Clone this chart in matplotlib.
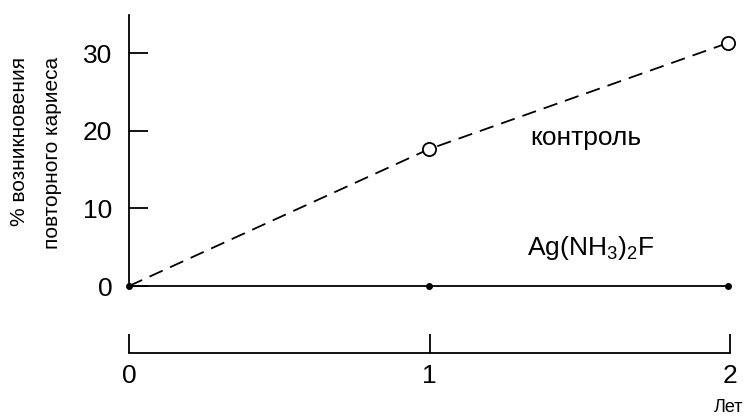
import matplotlib.pyplot as plt

plt.rcParams['font.family'] = ['Liberation Sans', 'DejaVu Sans']
plt.rcParams['mathtext.fontset'] = 'custom'
plt.rcParams['mathtext.rm'] = 'Liberation Sans'

# donnees
years = [0, 1, 2]
control = [0, 17.6, 31.3]
agf = [0, 0, 0]
yticks = [0, 10, 20, 30]

W, H = 747, 416
fig = plt.figure(figsize=(W / 100, H / 100), dpi=100)

# axe principal (y)
ax = fig.add_axes([129 / W, (H - 286) / H, 599 / W, (286 - 15) / H])
ax.set_xlim(0, 2)
ax.set_ylim(0, 34.9)
for s in ['top', 'right', 'bottom']:
    ax.spines[s].set_visible(False)
ax.spines['left'].set_linewidth(1.3)
ax.set_xticks([])
ax.set_yticks(yticks)
ax.tick_params(axis='y', direction='in', length=14, width=1.3, labelsize=19, pad=12)

ax.plot(years, agf, color='black', lw=1.3, marker='o', markersize=4, clip_on=False)
ax.plot(years, control, color='black', lw=1.3, linestyle=(0, (8, 4.5)),
        marker='o', markersize=9.5, markerfacecolor='white', markeredgewidth=1.3,
        markevery=[1, 2], clip_on=False)

ax.text(1.34, 19.0, 'контроль', fontsize=19, ha='left', va='center')
ax.text(1.33, 4.9, r'Ag(NH$_\mathregular{3}$)$_\mathregular{2}$F', fontsize=19,
        ha='left', va='center')

fig.text(20 / W, 1 - 57 / H, '% возникновения', rotation=90, fontsize=15,
         ha='center', va='top')
fig.text(52 / W, 1 - 57 / H, 'повторного кариеса', rotation=90, fontsize=15,
         ha='center', va='top')

# axe des x separe en bas
axb = fig.add_axes([129 / W, (H - 353) / H, 601 / W, 0.01])
axb.set_xlim(0, 2)
axb.set_yticks([])
for s in ['top', 'right', 'left']:
    axb.spines[s].set_visible(False)
axb.spines['bottom'].set_linewidth(1.3)
axb.patch.set_visible(False)
axb.set_xticks(years)
axb.tick_params(axis='x', direction='in', length=14, width=1.3, labelsize=19, pad=8)

fig.text(728 / W, 1 - 408 / H, 'Лет', fontsize=13, ha='center', va='center')

fig.savefig('out.png', dpi=100)
